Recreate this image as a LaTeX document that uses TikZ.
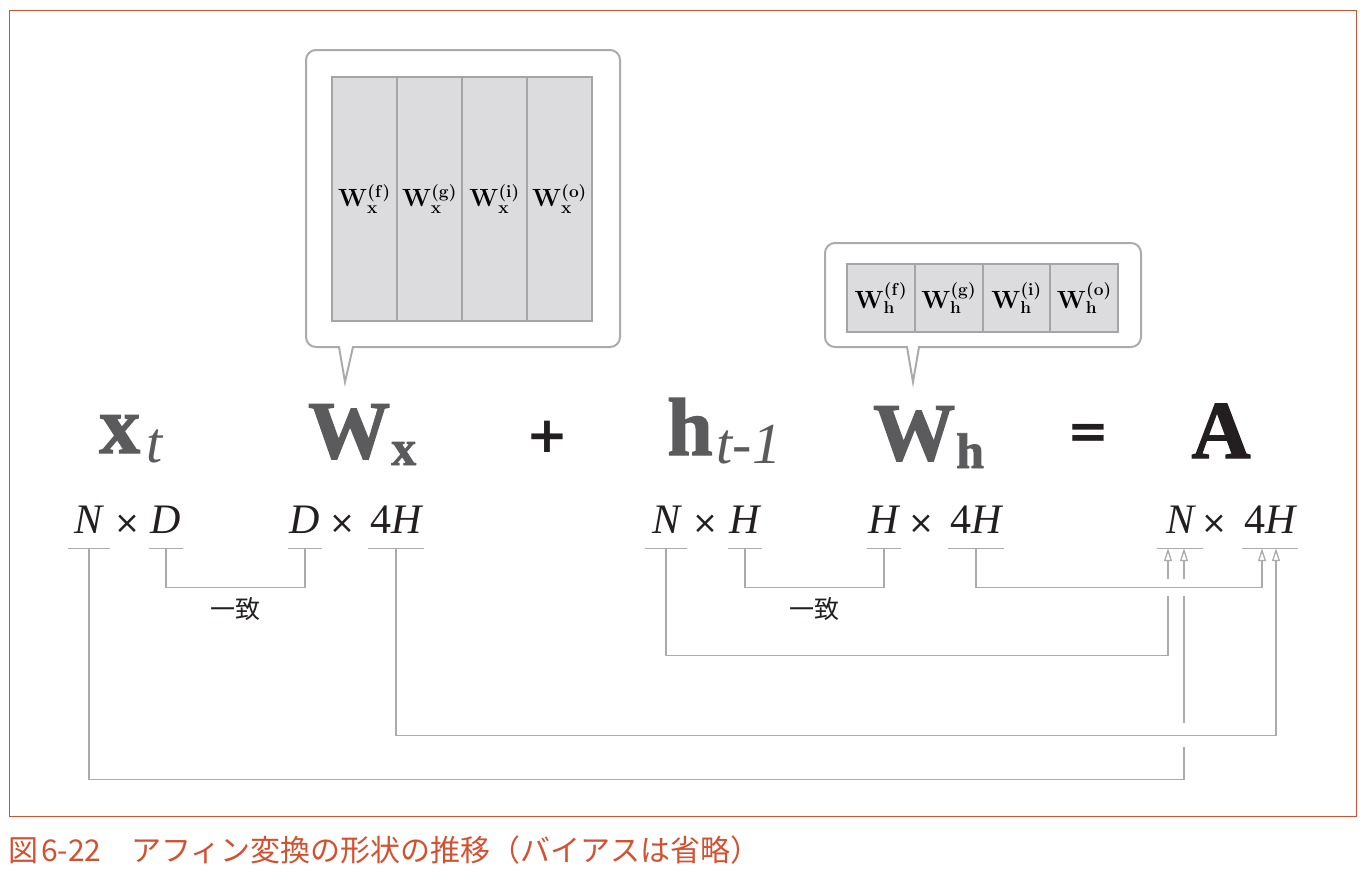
\documentclass[tikz,border=0pt]{standalone}
\usepackage{fontspec}
\usetikzlibrary{positioning,arrows.meta,calc}

\newfontfamily\timesfont{Liberation Serif}
\newfontfamily\heavyfont[FakeBold=1.6]{Liberation Serif Bold}
\newfontfamily\jpfont{Noto Sans CJK JP}
\newfontfamily\opfont{DejaVu Sans}

\definecolor{framered}{HTML}{D4502F}
\definecolor{symgray}{HTML}{5B5B5D}
\definecolor{inkblack}{HTML}{231F20}
\definecolor{linegray}{HTML}{ABABAB}
\definecolor{cellfill}{HTML}{DCDCDE}
\definecolor{cellline}{HTML}{A5A5A5}

\newcommand{\Heavy}[1]{{\heavyfont\fontsize{82}{82}\selectfont #1}}
\newcommand{\SubBf}[1]{{\heavyfont\fontsize{50}{50}\selectfont #1}}
\newcommand{\SubIt}[1]{{\timesfont\itshape\fontsize{58}{58}\selectfont #1}}
\newcommand{\Gate}[2]{{\boldmath$\mathbf{W}^{(\mathbf{#2})}_{\mathbf{#1}}$}}

\begin{document}
\begin{tikzpicture}[
  x=1pt, y=-1pt,
  sym/.style={text=symgray, inner sep=0pt, anchor=base west},
  op/.style={font=\opfont\bfseries\fontsize{50}{50}\selectfont, text=inkblack, inner sep=0pt},
  dim/.style={font=\timesfont\itshape\fontsize{42}{42}\selectfont, text=inkblack, anchor=base, text depth=0pt, inner xsep=2pt, inner ysep=15pt},
  timesop/.style={font=\opfont\fontsize{31}{31}\selectfont, text=inkblack, anchor=base, inner sep=0pt},
  bubble/.style={draw=linegray, line width=2pt, fill=white},
  gate/.style={draw=cellline, fill=cellfill, line width=2pt, inner sep=0pt, outer sep=0pt, font=\fontsize{24}{28}\selectfont},
  wxcell/.style={gate, minimum width=65pt, minimum height=244pt},
  whcell/.style={gate, minimum width=67.75pt, minimum height=68pt},
  link/.style={draw=linegray, line width=1.3pt},
  arr/.style={-{Triangle[open, length=13pt, width=8pt]}},
  uline/.style={draw=linegray, line width=1.3pt},
  halo/.style={draw=white, line width=#1},
  agree/.style={font=\jpfont\fontsize{25}{25}\selectfont, text=inkblack, inner sep=0pt}
]
\useasboundingbox (0,0) rectangle (1366,876);
\draw[framered, line width=1.5pt] (9.5,10.5) rectangle (1356.5,816.5);

% Callouts
\draw[bubble] (345,382) -- (339,347) [rounded corners=10pt] -- (306,347) -- (306,50) -- (620,50) -- (620,347) [sharp corners] -- (353,347) -- cycle;
\draw[bubble] (913,382) -- (907,347) [rounded corners=10pt] -- (825,347) -- (825,243) -- (1141,243) -- (1141,347) [sharp corners] -- (919,347) -- cycle;

% Gate blocks
\node[wxcell] (wxf) at (364.5,199) {\Gate{x}{f}};
\node[wxcell, right=0pt of wxf] (wxg) {\Gate{x}{g}};
\node[wxcell, right=0pt of wxg] (wxi) {\Gate{x}{i}};
\node[wxcell, right=0pt of wxi] (wxo) {\Gate{x}{o}};
\node[whcell] (whf) at (881,298) {\Gate{h}{f}};
\node[whcell, right=0pt of whf] (whg) {\Gate{h}{g}};
\node[whcell, right=0pt of whg] (whi) {\Gate{h}{i}};
\node[whcell, right=0pt of whi] (who) {\Gate{h}{o}};

% Equation
\node[sym] (xt) at (99,453) {\Heavy{x}\kern6pt\raisebox{-9pt}{\SubIt{t}}};
\node[sym] (wx) at (308,458) {\Heavy{W}\kern1pt\raisebox{-7pt}{\SubBf{x}}};
\node[op] (plus) at (547,437) {+};
\node[sym] (ht) at (667,455) {\Heavy{h}\kern4pt\raisebox{-8pt}{\SubIt{t-1}}};
\node[sym] (wh) at (873,460) {\Heavy{W}\kern1pt\raisebox{-8pt}{\SubBf{h}}};
\node[op] (eq) at (1088,436) {=};
\node[sym, text=inkblack, anchor=base] (amat) at (1221,458) {\Heavy{A}};

% Shapes
\node[dim, minimum width=42pt] (xtN) at (89,533) {N};
\node[timesop] (xtX) at (127,533) {×};
\node[dim] (xtD) at (166,533) {D};
\node[dim] (wxD) at (305,533) {D};
\node[timesop] (wxX) at (342,533) {×};
\node[dim] (wx4H) at (396,533) {{\upshape 4}H};
\node[dim, minimum width=41pt] (hN) at (666,533) {N};
\node[timesop] (hX) at (705,533) {×};
\node[dim] (hH) at (745,533) {H};
\node[dim] (whH) at (884,533) {H};
\node[timesop] (whX) at (921,533) {×};
\node[dim] (wh4H) at (976,533) {{\upshape 4}H};
\node[dim, minimum width=45pt] (aN) at (1180,533) {N};
\node[timesop] (aX) at (1214,533) {×};
\node[dim] (a4H) at (1270,533) {{\upshape 4}H};

\coordinate (aNl) at ($(aN.south)+(-12,0)$);
\coordinate (aNr) at ($(aN.south)+(4,0)$);
\coordinate (a4Hl) at ($(a4H.south)+(-8,0)$);
\coordinate (a4Hr) at ($(a4H.south)+(6,0)$);

% Matching inner sizes
\draw[link] (xtD.south) -- ++(0,39) -| (wxD.south) node[agree, pos=0.25, anchor=base, yshift=-31pt] (agx) {一致};
\draw[link] (hH.south) -- ++(0,39) -| (whH.south) node[agree, pos=0.25, anchor=base, yshift=-31pt] (agh) {一致};

% Sizes carried into A
\draw[link, arr] (xtN.south) -- ++(0,231) -| (aNr);
\draw[link, arr] (hN.south) -- ++(0,107) -| (aNl);
\coordinate (lvx) at ($(wx4H.south)+(0,187)$);
\draw[halo=24pt] (lvx) -- (lvx -| a4Hr);
\draw[link, arr] (wx4H.south) -- (lvx) -| (a4Hr);
\coordinate (lvh) at ($(wh4H.south)+(0,39)$);
\draw[halo=17pt] (lvh) -- (lvh -| a4Hl);
\draw[link, arr] (wh4H.south) -- (lvh) -| (a4Hl);

\foreach \d in {xtN,xtD,wxD,wx4H,hN,hH,whH,wh4H,aN,a4H}
  \draw[uline] (\d.south west) -- (\d.south east);

\node[font=\jpfont\fontsize{30}{30}\selectfont, text=framered, anchor=base west, inner sep=0pt] (caption) at (8,861) {図\kern3pt 6-22　アフィン変換の形状の推移（バイアスは省略）};
\end{tikzpicture}
\end{document}
